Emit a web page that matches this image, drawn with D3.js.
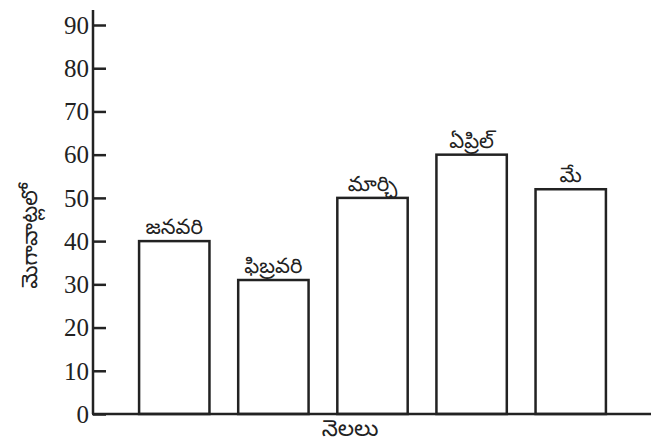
<!DOCTYPE html>
<html>
<head>
<meta charset="utf-8">
<script src="https://cdn.jsdelivr.net/npm/d3@7"></script>
<style>
  body { margin: 0; background: #fff; }
  .tel { font-family: "Noto Sans Telugu", "Noto Sans", sans-serif; }
</style>
</head>
<body>
<div id="chart"></div>
<script>
// data
var months = ["జనవరి", "ఫిబ్రవరి", "మార్చి", "ఏప్రిల్", "మే"];
var values = [40, 31, 50, 60, 52];
var yTicks = [0, 10, 20, 30, 40, 50, 60, 70, 80, 90];
var xTitle = "నెలలు";
var yTitle = "మెగావాట్లలో";

var W = 651, H = 448;
var ink = "#222";

var svg = d3.select("#chart")
    .append("svg")
    .attr("width", W)
    .attr("height", H);

// scales
var x = d3.scaleBand()
    .domain(months)
    .range([93, 652])
    .paddingInner(0.29)
    .paddingOuter(0.465);

var y = d3.scaleLinear()
    .domain([0, 90])
    .range([414, 25]);

// bars
svg.append("g")
    .selectAll("rect")
    .data(values)
    .enter()
    .append("rect")
    .attr("x", function (d, i) { return x(months[i]); })
    .attr("y", function (d) { return y(d); })
    .attr("width", x.bandwidth())
    .attr("height", function (d) { return y(0) - y(d); })
    .style("fill", "#fff")
    .style("stroke", ink)
    .style("stroke-width", 2.5);

// month names over the bars
svg.append("g")
    .selectAll("text")
    .data(values)
    .enter()
    .append("text")
    .attr("class", "tel")
    .attr("x", function (d, i) { return x(months[i]) + x.bandwidth() / 2; })
    .attr("y", function (d) { return y(d) - 7; })
    .attr("text-anchor", "middle")
    .style("font-size", "21px")
    .style("fill", ink)
    .text(function (d, i) { return months[i]; });

// y axis, ticks pointing inward
var yAxis = svg.append("g")
    .attr("transform", "translate(93,0)")
    .call(d3.axisRight(y).tickValues(yTicks).tickSize(13).tickSizeOuter(0).tickFormat(""));
yAxis.select(".domain").remove();
yAxis.selectAll("line").style("stroke", ink).style("stroke-width", 2.5);

svg.append("g")
    .selectAll("text")
    .data(yTicks)
    .enter()
    .append("text")
    .attr("x", 89)
    .attr("y", function (d) { return y(d); })
    .attr("dy", "0.35em")
    .attr("text-anchor", "end")
    .style("font-family", "'Liberation Serif', 'Times New Roman', serif")
    .style("font-size", "25px")
    .style("fill", ink)
    .text(function (d) { return d; });

// axis lines
svg.append("line")
    .attr("x1", 93).attr("x2", 93)
    .attr("y1", 10).attr("y2", y(0))
    .style("stroke", ink).style("stroke-width", 2.5);
svg.append("line")
    .attr("x1", 92).attr("x2", 651)
    .attr("y1", y(0)).attr("y2", y(0))
    .style("stroke", ink).style("stroke-width", 2.5);

// axis titles
svg.append("text")
    .attr("class", "tel")
    .attr("x", 350)
    .attr("y", 436)
    .attr("text-anchor", "middle")
    .style("font-size", "23px")
    .style("fill", ink)
    .text(xTitle);

svg.append("text")
    .attr("class", "tel")
    .attr("transform", "translate(37,236) rotate(-90)")
    .attr("text-anchor", "middle")
    .style("font-size", "22px")
    .style("fill", ink)
    .text(yTitle);
</script>
</body>
</html>
